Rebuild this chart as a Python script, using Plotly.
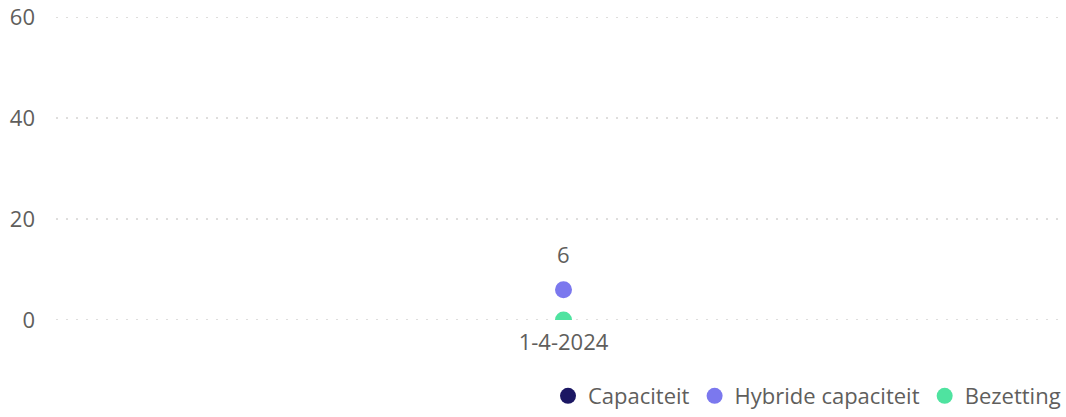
import plotly.graph_objects as go

categories = ["1-4-2024"]
capaciteit = [None]
hybride_capaciteit = [6]
bezetting = [0]

series_names = ["Capaciteit", "Hybride capaciteit", "Bezetting"]
series_colors = ["#1B1763", "#7B78EE", "#4FE3A0"]
series_values = [capaciteit, hybride_capaciteit, bezetting]
labelled_series = ["Hybride capaciteit"]

y_ticks = [0, 20, 40, 60]

FONT = "Segoe UI, Open Sans, sans-serif"
GRAY = "#605E5C"

fig = go.Figure()

# dotted gridlines (drawn as shapes so that the ones on the axis edges also show)
for v in y_ticks:
    fig.add_hline(y=v, line=dict(color="#BEBCBA", width=1, dash="2px,8px"), layer="below")

for name, color, vals in zip(series_names, series_colors, series_values):
    fig.add_trace(go.Scatter(
        x=categories, y=vals, name=name, mode="markers",
        marker=dict(color=color, size=17, line=dict(width=0)),
        cliponaxis=True,
    ))
    if name in labelled_series:
        for c, v in zip(categories, vals):
            if v is not None:
                fig.add_annotation(x=c, y=v, text=f"{v}", showarrow=False,
                                   yshift=36, font=dict(family=FONT, size=22, color=GRAY))

fig.update_layout(
    width=1066, height=417,
    margin=dict(l=56, r=0, t=17, b=97),
    paper_bgcolor="white", plot_bgcolor="white",
    font=dict(family=FONT, color=GRAY, size=22),
    showlegend=True,
    legend=dict(orientation="h", xref="container", yref="container",
                x=1.0, xanchor="right", y=0.0, yanchor="bottom",
                font=dict(family=FONT, size=22, color=GRAY),
                itemwidth=30, tracegroupgap=0),
)
fig.update_xaxes(type="category", range=[-0.505, 0.5], showgrid=False, zeroline=False,
                 showline=False, ticks="", ticklabelstandoff=7,
                 tickfont=dict(family=FONT, size=22, color=GRAY))
fig.update_yaxes(range=[0, 60], tickvals=y_ticks, showgrid=False, zeroline=False,
                 showline=False, ticks="", ticklabelstandoff=20,
                 tickfont=dict(family=FONT, size=22, color=GRAY))

fig.write_html("out.html", config={"displayModeBar": False},
               post_script="document.body.style.margin='0';document.body.style.overflow='hidden';")
